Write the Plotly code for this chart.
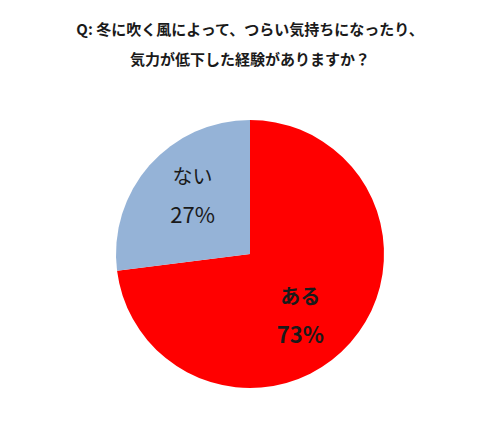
import plotly.graph_objects as go

labels = ["ある", "ない"]
values = [73, 27]
colors = ["#FF0000", "#95B3D7"]
title_lines = ["Q: 冬に吹く風によって、つらい気持ちになったり、", "気力が低下した経験がありますか？"]

lab = "<span style='font-size:20px'>%{label}</span>"
pct = "<span style='font-size:22px'>%{percent:.0%}</span>"
nb = "\u00a0"
tmpl = [
    nb + "<br>" + nb + "<br><b>" + lab + "</b><br><br><b>" + pct + "</b>",
    lab + "<br><br>" + pct + "<br>" + nb,
]

fig = go.Figure(go.Pie(
    labels=labels,
    values=values,
    sort=False,
    direction="clockwise",
    rotation=0,
    marker=dict(colors=colors, line=dict(width=0)),
    texttemplate=tmpl,
    textposition="inside",
    insidetextorientation="horizontal",
    textfont=dict(family="Noto Sans CJK JP", size=15, color="#1a1a1a"),
    domain=dict(x=[0.232, 0.768], y=[0.104, 0.723]),
    showlegend=False,
    hoverinfo="label+percent",
))

title_html = "<br>".join("<b><span style='font-size:15px'>{}</span></b>".format(t) for t in title_lines)

fig.update_layout(
    width=500, height=433,
    margin=dict(l=0, r=0, t=0, b=0),
    paper_bgcolor="white",
    plot_bgcolor="white",
    title=dict(text=title_html, x=0.5, xanchor="center",
               y=0.919, yanchor="middle",
               font=dict(family="Noto Sans CJK JP", size=23, color="#1a1a1a")),
)

fig.write_html("out.html", config={"displayModeBar": False},
               post_script="document.body.style.margin='0';")
